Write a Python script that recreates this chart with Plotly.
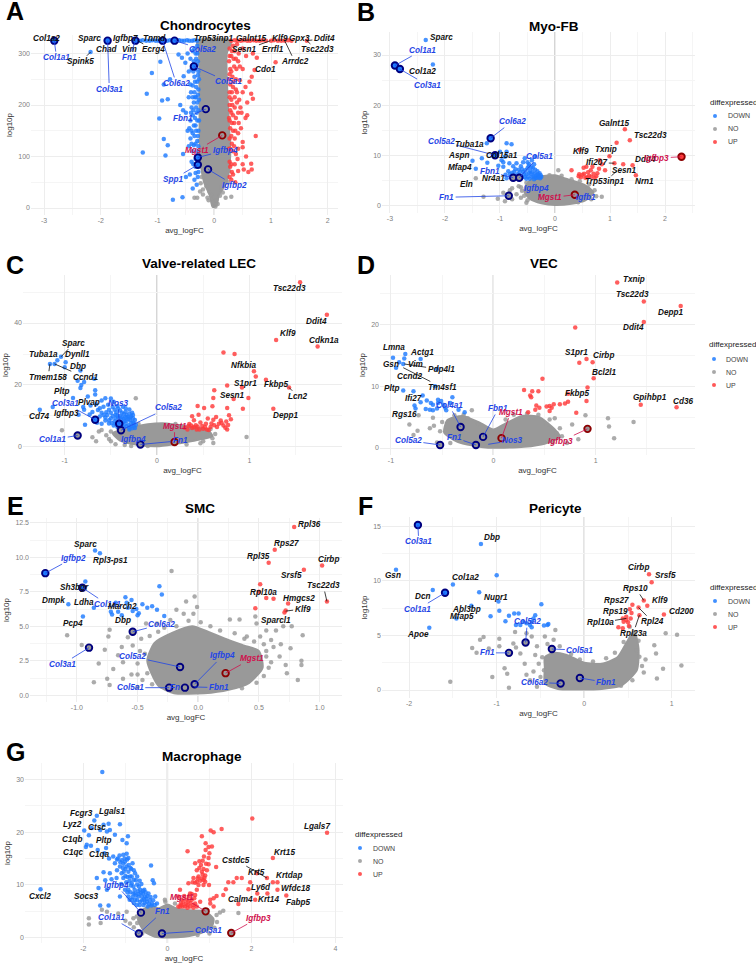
import plotly.graph_objects as go

W, H = 756, 967
FONT = "Liberation Sans"
BLUE, RED, GREY = "#1E7BFF", "#FF3B3B", "#999999"
NAVY, DKRED = "#00007F", "#8B0000"
LBL = {"k": "#111111", "b": "#1F45E6", "r": "#D0104C"}
FILL = {"b": BLUE, "n": GREY, "r": RED}

# ---------- Panel A: Chondrocytes ----------
A_down = [(-2.18,303),(-1.26,108),(-1.19,222),(-1.1,262),(-.95,284),(-.97,174),(-.92,209),(-.82,211),(-.89,134),(-.82,122),(-.86,102),
 (-.73,16),(-.56,21),(-.38,38),(-.89,240),(-.78,250),(-.54,256),(-.63,298),(-.51,282),(-.57,292),(-.6,200),(-.55,190),(-.5,185),(-.42,240),
 (-.45,215),(-.4,195),(-.38,180),(-.42,170),(-.47,150),(-.4,150),(-.35,140),(-.33,160),(-.3,130),(-.45,120),(-.38,110),(-.33,95),(-.55,105),
 (-.5,60),(-.43,65),(-.35,55),(-.31,45),(-.28,70),(-.27,100),(-.28,120),(-.28,150),(-.27,170),(-.28,190),(-.27,210),(-.28,230),(-.27,250),
 (-.28,265),(-.29,285),(-.3,300),(-.3,315),(-.33,300),(-.35,310),(-.38,305),(-.42,290),(-.33,270),(-.35,255),(-.32,235),(-.35,225),(-.32,215),
 (-.36,205),(-.32,195),(-.34,175),(-.32,150),(-.3,110),
 (-1.36,325),(-1.31,325),(-1.26,326),(-1.2,325),(-1.14,325),(-1.09,326),(-1.03,325),(-.98,325),(-.94,326),(-.87,325),(-.83,325),(-.78,326),
 (-.74,325),(-.66,325),(-.62,326),(-.57,325),(-.53,325),(-.48,326),(-.44,325),(-.39,325),(-.35,326),(-.3,325),
 (-.4,125),(-.36,122),(-.42,135),(-.38,145),(-.44,155),(-.36,160),(-.41,185),(-.37,190),(-.3,170),(-.31,185),(-.3,205),(-.34,215),(-.38,215),(-.41,225),(-.29,220),(-.3,245),(-.34,245),(-.38,238),(-.29,258),(-.37,265),
 (-.31,278),(-.36,285),(-.32,290),(-.4,270),(-.45,265),(-.47,300),(-.29,140),(-.33,125),(-.3,85),(-.33,80),(-.37,85),(-.4,90),(-.29,60),(-.33,68)]
A_up = [(1.08,283),(.71,268),(.73,140),(.65,86),(.66,75),(.6,70),(.5,128),(.5,118),(.56,100),(.5,85),(.52,75),(.42,72),(.37,50),(.33,65),(.3,85),
 (.33,110),(.27,90),(.26,115),(.27,135),(.28,155),(.3,140),(.36,135),(.42,145),(.47,155),(.55,175),(.58,180),(.48,185),(.43,165),(.35,165),
 (.3,185),(.26,175),(.27,200),(.3,210),(.36,195),(.44,210),(.5,225),(.58,205),(.68,212),(.65,222),(.62,245),(.66,255),(.55,235),(.4,225),(.33,235),
 (.27,225),(.26,250),(.32,255),(.38,250),(.45,248),(.5,270),(.42,285),(.35,275),(.28,270),(.3,295),(.26,285),(.36,305),(.43,300),(.5,310),(.56,295),
 (.68,300),(.75,292),(.33,315),(.27,310),(.4,318),
 (.3,325),(.36,326),(.41,325),(.47,325),(.52,326),(.58,325),(.63,325),(.69,326),(.74,325),(.8,325),(.85,326),(.91,325),(1.0,325),(1.05,326),(1.12,325),
 (1.18,325),(1.24,325),(1.3,326),(1.36,325),(1.63,325),
 (.28,115),(.31,125),(.35,120),(.38,105),(.42,115),(.27,170),(.31,165),(.33,180),(.38,175),(.42,185),(.46,195),(.28,190),(.32,200),(.27,215),(.31,225),(.36,215),(.4,205),(.28,240),(.33,245),(.38,230),(.27,260),(.3,265),
 (.34,290),(.38,290),(.27,295),(.31,305),(.39,270),(.45,275),(.28,80),(.31,70),(.36,85),(.41,95),(.27,60),(.3,55),(.37,150),(.33,150)]
A_no = [(-.3,20),(-.35,20),(-.25,32),(-.2,36),(-.12,20),(-.1,15),(-.05,24),(0,20),(.03,15),(.1,24),(.2,20),(.3,22),(-.02,10),(.06,8),(-.2,26),(.15,30),
 (-.08,30),(.02,3),(-.22,60),(-.24,48),(.25,50),(-.14,42),(.13,40),(-.23,80),(.26,72),(-.26,130),(.26,130)]
A_cloud = [(-.03,2),(-.08,25),(-.18,50),(-.25,100),(-.26,200),(-.27,300),(-.3,325),(.3,325),(.22,300),(.24,200),(.28,100),(.22,50),(.08,25),(.04,5)]
A_rings = [(-2.82,325,"b","b"),(-1.88,325,"b","b"),(-1.39,325,"b","b"),(-.91,325,"b","b"),(-.7,325,"b","b"),(-.36,275,"b","b"),(-.15,192,"n","b"),
 (.14,141,"n","r"),(-.29,98,"b","b"),(-.29,84,"b","b"),(-.11,75,"n","b")]
A_labels = [("Col1a2","k",-2.95,329,None,None),("Col1a1","b",-2.78,292,-2.82,325),("Sparc","k",-2.2,329,None,None),("Igfbp7","k",-1.57,329,-1.72,325),
 ("Tnmd","k",-1.06,330,None,None),("Chad","k",-1.9,307,None,None),("Spink5","k",-2.35,284,-2.18,303),("Vim","k",-1.49,307,None,None),
 ("Fn1","b",-1.49,293,-1.39,325),("Ecrg4","k",-1.07,307,-1.35,325),("Col3a1","b",-1.85,231,-1.88,325),("Col6a2","b",-.67,242,-.91,325),
 ("Col5a2","b",-.2,308,-.7,325),("Col5a1","b",.25,245,-.36,275),("Trp53inp1","k",-.01,329,None,None),("Galnt15","k",.64,329,None,None),
 ("Klf9","k",1.15,329,None,None),("Gpx3","k",1.5,329,None,None),("Ddit4","k",1.94,329,1.63,325),("Sesn1","k",.54,307,.99,325),("Errfl1","k",1.03,307,None,None),
 ("Arrdc2","k",1.42,284,1.24,325),("Tsc22d3","k",1.81,307,1.63,325),("Cdo1","k",.91,269,None,None),("Fbn1","b",-.55,173,-.15,192),
 ("Mgst1","r",-.31,112,.14,141),("Igfbp4","b",.19,112,-.29,98),("Spp1","b",-.72,56,-.29,84),("Igfbp2","b",.36,44,-.11,75)]

# ---------- Panel B: Myo-FB ----------
B_down = [(-2.35,33),(-2.22,28.1),(-1.24,12.4),(-.88,12.4),(-.79,12.2),(-1.5,8.9),(-1.44,7.3),(-1.23,8.5),(-1.33,9.4),(-1,10.7),(-.88,10.7),(-.97,9),(-.91,9.7),
 (-.83,8.4),(-.94,7.7),(-.7,8.4),(-.55,9.4),(-.42,9),(-.36,9.7),(-.94,8.6),(-1.03,7.9),(-.85,6.8),(-.9,6.1),(-.78,6.5),(-.72,7.2),(-.68,6.2),(-.62,7.8),(-.58,6.7),
 (-.55,5.6),(-.5,7.4),(-.52,6.2),(-.47,8.2),(-.45,6.9),(-.42,5.7),(-.4,7.5),(-.37,6.3),(-.35,5.5),(-.32,6.8),(-.3,5.9),(-.27,5.4),(-.25,5.7),(-.58,8.6),(-.5,8.6),
 (-.62,5.4),(-.73,5.9),(-.46,5.3),(-.38,5.2),(-.28,6.4),(-.8,5.7),(-.66,7.1),
 (-.88,5.4),(-.82,6.2),(-.76,7.8),(-.7,5.6),(-.64,6.6),(-.6,5.7),(-.56,6.2),(-.54,7),(-.49,5.7),(-.47,6.5),(-.44,6.3),(-.41,6.6),(-.39,5.8),(-.36,7.1),(-.34,6),(-.33,5.5),(-.31,6.2),(-.29,5.6),(-.26,6),(-.48,7.8),(-.6,7.2),(-.68,5.3),(-.74,6.7),(-.52,5.3),(-.43,7.6),(-.38,8.2)]
B_up = [(1.27,15.2),(1.36,13),(1.12,12.5),(.45,11.1),(.99,9.8),(1.08,8.4),(1.24,8.2),(1.41,8),(1.47,6),(.81,9),(.91,7),(.3,7),(.44,6.2),(.47,5.6),(.43,5.8),
 (.52,7.5),(.57,7.7),(.53,6.3),(.55,5.5),(.6,6.6),(.62,5.9),(.65,7),(.68,7.7),(.7,6.3),(.75,5.8),(.77,6.4),(.8,7.3),(.85,8.2),(.58,5.6),(.5,6.1),(.72,5.5),(.66,5.7)]
B_no = [(-1.44,5.4),(-1.3,1.7),(-1.04,1.3),(-.91,.8),(-.94,2.5),(-.82,3),(.85,1.7),(.06,7),(-.78,3.4),(-.7,2.2),(-.66,3.8),(-.62,1.5),(-.6,2.9),(-.78,1.2),(.62,4.2),(.72,3),(.75,1.8),(-.1,6),
 (-.52,4.5),(-.56,1.9),(-.5,1),(-.38,5.4),(.12,5.9),(.3,5.2),(.45,4.8),(.6,3.4),(.66,1.2),(.42,.6),(-.62,3.6),(-.52,.5)]
B_cloud = [(-.55,3.5),(-.45,5),(-.25,5.8),(0,6),(.2,5.3),(.35,4.8),(.55,4),(.7,2.5),(.55,1),(.3,.3),(0,.05),(-.25,.4),(-.45,1.2),(-.55,2.5)]
B_rings = [(-2.91,27.9,"b","b"),(-2.82,27.2,"b","b"),(-1.17,13.4,"b","b"),(-1.09,10,"b","b"),(-.76,5.5,"n","b"),(-.65,5.5,"n","b"),(-.84,1.9,"n","b"),(2.3,9.7,"r","r"),(.36,2.1,"n","r")]
B_labels = [("Sparc","k",-2.07,33.5,None,None),("Col1a1","b",-2.41,31,-2.91,27.9),("Col1a2","k",-2.41,26.8,None,None),("Col3a1","b",-2.32,24,-2.82,27.2),
 ("Col6a2","b",-.78,16.7,-1.17,13.4),("Col5a2","b",-2.07,12.8,-1.09,10),("Tuba1a","k",-1.56,12.2,None,None),("Aspn","k",-1.76,9.9,None,None),("Col15a1","k",-.97,9.9,None,None),
 ("Mfap4","k",-1.72,7.5,None,None),("Fbn1","b",-1.19,6.7,-.76,5.5),("Nr4a1","k",-1.12,5.4,None,None),("Eln","k",-1.61,4.2,None,None),("Col5a1","b",-.29,9.8,-.65,5.5),
 ("Igfbp4","b",-.33,3.4,-.28,1.5),("Fn1","b",-1.97,1.6,-.84,1.9),("Mgst1","r",-.09,1.5,.36,2.1),("Igfb1","b",.56,1.6,.36,2.1),("Galnt15","k",1.08,16.4,None,None),
 ("Tsc22d3","k",1.73,14,None,None),("Klf9","k",.48,10.7,None,None),("Txnip","k",.93,11.1,.99,9.8),("Ifi207","k",.76,8.5,1.08,8.4),("Ddit4","k",1.64,9.2,None,None),
 ("Igfbp3","r",1.85,9.4,2.3,9.7),("Sesn1","k",1.26,6.9,None,None),("Trp53inp1","k",.9,4.7,1.12,6.8),("Nrn1","k",1.62,4.7,None,None)]

# ---------- Panel C: Valve-related LEC ----------
C_down = [(-1.27,12),(-1.13,12.9),(-1.04,29.1),(-1.08,28),(-.99,27.3),(-1.16,26.8),(-1.11,26.8),(-1,25.7),(-.83,24.7),(-.86,21.4),(-.79,21),(-.83,19),(-.68,22),(-.91,15.8),
 (-.67,18.3),(-.75,16.3),(-.67,16.9),(-.78,7.2),(-.85,10.4),(-.79,12),(-.82,20),(-.8,12.9),(-.72,13.4),(-.73,10.5),(-.7,11.3),(-.66,13.8),(-.64,11.9),(-.6,15),(-.62,9.8),
 (-.56,15.7),(-.53,13.6),(-.5,15.6),(-.55,11.2),(-.48,12.9),(-.45,10.4),(-.43,13.2),(-.4,11.8),(-.37,13),(-.34,11.4),(-.3,12.1),(-.27,11),(-.5,9.3),(-.46,8.3),(-.42,9.4),
 (-.38,9.6),(-.35,8.4),(-.32,9.7),(-.29,8.7),(-.26,9.3),(-.25,7.5),(-.28,6.8),(-.33,6.7),(-.36,6.2),(-.43,6.5),(-.47,6.9),(-.52,7.6),(-.56,8.5),(-.6,7.5),(-.65,7.8),(-.4,5.8),(-.24,6.1),(-.3,5.6),
 (-.62,12.5),(-.58,13),(-.56,9.5),(-.54,10.3),(-.52,12),(-.5,11),(-.48,10),(-.47,14.6),(-.46,12),(-.44,11.2),(-.42,12.4),(-.42,8),(-.4,10),(-.4,7.2),(-.39,8.8),(-.38,11),(-.38,6.9),(-.36,9.2),(-.36,10.6),(-.35,7.4),(-.34,12.5),
 (-.33,8.4),(-.33,10.3),(-.31,7.1),(-.31,9),(-.3,10.7),(-.3,6.3),(-.28,9.9),(-.28,7.8),(-.27,6),(-.26,8),(-.26,10.3),(-.25,6.7),(-.24,8.7),(-.23,7.2),(-.52,8.6),(-.49,7.7),(-.45,7.5),(-.45,9.2),(-.43,10.1),(-.37,7.9),(-.34,9.6),(-.29,9.5),(-.58,10.3),(-.6,11)]
C_up = [(1.55,53.2),(1.84,42.7),(1.29,34.5),(1.74,32.4),(.72,30.5),(.84,30),(1.05,24.4),(1.07,22.7),(1.18,21.7),(1.43,19.2),(.92,19.2),(.76,19.8),(.62,18.3),(.61,15.8),(.83,15.5),
 (.99,15.8),(1.26,12.3),(.93,12.3),(.44,13.2),(.51,12.6),(.6,13.1),(.76,12.6),(.38,9.9),(.45,10.4),(.3,6.2),(.35,7.4),(.4,8.6),(.33,5.6),(.38,6.1),(.42,7),(.47,7.9),(.5,5.9),(.53,7.5),
 (.55,9.2),(.58,6.4),(.61,8.8),(.64,9.7),(.62,7),(.67,7.5),(.69,8.5),(.72,6.9),(.75,8.2),(.77,7.1),(.8,8.9),(.76,5.6),(.78,10.2),(.43,5.6),(.56,5.5),
 (.34,6.8),(.37,6.9),(.4,6.4),(.44,6.6),(.46,5.6),(.49,6.8),(.52,6.4),(.54,5.6),(.59,7.6),(.65,6.4),(.7,7.7),(.74,6.2)]
C_no = [(-1.03,5.4),(-.7,3.1),(-.66,1.8),(-.63,5),(-.23,15.7),(.97,3.2),(.61,1.3),(-.5,1.8),(-.6,5.5),(-.55,3.8),(-.52,2.6),(-.45,.9),(-.35,.6),(.5,1.8),(.63,4.2),
 (-.5,5),(-.42,6),(-.2,7.4),(.2,7.4),(.42,6.2),(.58,5.8),(.6,2.8),(.47,1.2),(.32,.8),(-.28,.3),(-.1,.3)]
C_cloud = [(-.48,4.5),(-.3,6),(-.1,7.3),(.1,7.6),(.3,6.8),(.55,5.5),(.6,3.5),(.4,2),(.2,1),(0,.2),(-.2,.6),(-.4,2)]
C_rings = [(-.86,3.7,"n","b"),(-.67,8.8,"b","b"),(-.41,7.5,"b","b"),(-.39,5.4,"n","b"),(-.18,.8,"n","b"),(.19,1.6,"n","r")]
C_labels = [("Tsc22d3","k",1.44,51,None,None),("Ddit4","k",1.73,40.5,None,None),("Klf9","k",1.42,36.5,None,None),("Cdkn1a","k",1.81,34.3,None,None),("Nfkbia","k",.94,26.3,None,None),
 ("S1pr1","k",.96,20.4,None,None),("Fkbp5","k",1.29,20,None,None),("Sesn1","k",.82,16.7,None,None),("Lcn2","k",1.53,16.2,1.43,19.2),("Depp1","k",1.39,10.1,None,None),
 ("Sparc","k",-.9,33.5,-1.04,29.1),("Tuba1a","k",-1.23,29.8,None,None),("Dynll1","k",-.86,29.8,None,None),("Dbp","k",-.86,26,None,None),("Tmem158","k",-1.18,22.5,-1.16,26.8),
 ("Ccnd1","k",-.78,22.5,-1.11,26.8),("Pltp","k",-1.03,17.8,None,None),("Col3a1","b",-.99,14,-.67,8.8),("Plvap","k",-.74,14.4,None,None),("Nos3","b",-.42,14,-.41,7.5),
 ("Igfbp3","k",-.98,10.8,None,None),("Cd74","k",-1.28,9.8,None,None),("Col1a1","b",-1.13,2.4,-.86,3.7),("Col5a2","b",.12,12.6,-.39,5.4),("Igfbp4","b",-.25,2.4,None,None),
 ("Mgst1","r",.19,6.7,.19,1.6),("Fn1","b",.25,2,-.18,.8)]

# ---------- Panel D: VEC ----------
D_down = [(-.86,15.2),(-.98,14.6),(-.87,14.5),(-.71,14.4),(-.92,13.9),(-.88,13.6),(-.95,13),(-.55,12.8),(-.57,10),(-.88,9.3),(-.78,9.2),(-.69,8.5),(-.77,6.9),(-.76,6.4),(-.71,7.4),(-.65,7.7),
 (-.61,7.3),(-.66,6.3),(-.59,7),(-.54,7.8),(-.54,7.3),(-.51,7.6),(-.4,8.2),(-.59,6.1),(-.55,6.4),(-.47,6.5),(-.46,6.1),(-.34,6.2),(-.28,5.8),(-.49,7),(-.42,7.3),(-.62,6.2)]
D_up = [(1.21,26.8),(1.47,23.7),(1.83,23),(1.47,20.4),(.8,19.5),(.91,14.4),(.97,13.9),(.84,13.8),(.98,11.3),(.48,11.2),(.92,9.8),(.3,9.4),(.38,9.2),(.44,9.2),(.36,8.5),(.37,8.2),(.73,8.8),(.91,7.6),
 (.73,7.5),(.7,7.2),(.65,7.1),(.59,7.1),(.55,6.8),(.52,6.7),(.57,6.5),(.42,6.9),(.45,6.5),(.41,6.2),(.34,5.8),(.81,5.7),(1.44,7),(1.79,6.6),(.55,6)]
D_no = [(-.73,5.3),(-.82,3.8),(-.74,2.8),(-.78,2.1),(-.59,4.9),(-.62,3.2),(1.12,4.8),(1.13,3.5),(1.37,4.2),(1.18,1.6),(.9,5.3),(.83,1.4),(.77,3.8),(.65,3.2),(.67,1.9),(.55,4.6),(.52,3.8),(-.21,6.1),
 (-.29,5.4),(-.52,2.7),(-.5,4.2),(-.55,.9),(.72,.8),(.6,4.8),(-.38,5.3),(-.25,4.8),(-.15,3.9),(.12,4.6),(.2,5.4),(.33,5.6),(.44,5.4),(.62,2.4),(-.42,.8),(-.58,3.6),(.58,.9)]
D_cloud = [(-.48,2.5),(-.45,4.5),(-.3,5.2),(-.12,4),(0,3),(.1,3.8),(.28,5.2),(.45,5),(.6,3),(.65,1.8),(.5,.7),(.3,.2),(.1,.05),(-.05,.05),(-.2,.4),(-.35,1)]
D_rings = [(-.52,.5,"n","b"),(-.32,3.4,"n","b"),(-.17,.5,"n","b"),(-.1,1.8,"n","b"),(.08,1.6,"n","r"),(.92,3.1,"n","r")]
D_labels = [("Txnip","k",1.37,27.2,None,None),("Tsc22d3","k",1.36,24.8,None,None),("Depp1","k",1.73,21.9,None,None),("Ddit4","k",1.37,19.5,None,None),("S1pr1","k",.81,15.4,None,None),
 ("Cirbp","k",1.08,15,None,None),("Bcl2l1","k",1.09,12.3,None,None),("Fkbp5","k",.82,8.8,None,None),("Gpihbp1","k",1.53,8.1,None,None),("Cd36","k",1.85,7.6,None,None),
 ("Lmna","k",-.97,16.2,None,None),("Actg1","k",-.7,15.4,None,None),("Gsn","k",-1,13.5,None,None),("Vim","k",-.76,13.5,None,None),("Pdp4l1","k",-.51,12.7,-.87,13.6),("Ccnd2","k",-.82,11.6,None,None),
 ("Tm4sf1","k",-.5,9.8,-.88,13),("Pltp","k",-.99,9.7,None,None),("Ifi27","k",-.78,8,None,None),("Rgs16","k",-.87,5.5,None,None),("Col4a1","b",-.43,6.9,-.32,3.4),("Col5a2","b",-.83,1.2,-.52,.5),
 ("Fn1","b",-.38,1.7,-.17,.5),("Fbn1","b",.05,6.4,-.1,1.8),("Mgst1","r",.17,5.8,.08,1.6),("Nos3","b",.18,1.2,-.05,.6),("Igfbp3","r",.66,1.1,.92,3.1)]

# ---------- Panel E: SMC ----------
E_down = [(-.85,10.5),(-.81,10.3),(-.93,8.25),(-.32,7.9),(-.3,7.3),(-1.07,6.6),(-.95,5.7),(-.86,6.35),(-.6,7.1),(-.55,6.9),(-.59,6.7),(-.68,6.7),(-.72,6.05),(-.71,5.85),(-.66,6.05),(-.63,5.8),
 (-.58,6.35),(-.54,6.1),(-.51,6.25),(-.5,5.8),(-.49,5.95),(-.46,6.6),(-.42,6.35),(-.38,6.45),(-.34,6.2),(-.28,5.75)]
E_up = [(.79,12.2),(.63,10.55),(.58,9.6),(.87,9.1),(1.02,9.4),(.51,8.05),(.5,7.5),(.56,7.05),(.62,7),(1.06,6.8),(.74,6.65),(.47,6.3),(.72,6.15),(.71,6)]
E_no = [(-.22,9),(-.03,7.15),(-1.08,4.35),(-.96,3.65),(-.86,.95),(-.73,4.75),(-.74,4.25),(-.77,3.3),(-.82,2.3),(-.75,1.2),(-.73,.75),(-.63,3.5),(-.62,2.4),(-.54,3.6),(-.5,2.3),(.77,5),(.86,4.35),
 (.85,2.5),(.85,2.2),(.82,1.1),(-.1,6.8),(-.18,6.2),(-.01,6.4),(.26,5.5),(.34,5.5),(.47,5.7),(.48,5.2),(.4,4.25),(.56,4.7),(.64,4.7),(.7,5),(.51,4.25),(.62,3.5),(.56,2.8),(.67,2.8),(.73,1.6),
 (-.43,5.2),(-.34,5.2),(-.23,5.45),(-.12,5.9),(-.04,5.9),(-.62,1.2),(-.55,1.5),(-.48,3.2),(-.46,1.1),(-.5,.6),(.58,2),(.6,4),(.68,3.7),(.72,2.2),(.76,3.4),(-.66,2.9),(-.7,1.9),(-.58,4.2),(-.47,4.1),
 (-.4,4.3),(-.33,4.6),(-.28,4.9),(-.18,5),(-.08,5.4),(.02,5.3),(.1,5),(.18,4.7),(.3,4.5),(.38,4.1),(.46,3.9),(.54,3.7),(.56,3.2),(.6,2.4),(.54,1.4),(.48,.9),(.36,.5),(-.38,.8),(-.42,1.6),(-.44,3),(-.5,1.5)]
E_cloud = [(-.42,2.5),(-.36,3.8),(-.22,4.5),(-.05,5),(.08,4.6),(.22,4.1),(.38,3.6),(.5,3.2),(.53,2),(.42,.9),(.25,.4),(.05,.15),(-.2,.15),(-.33,.7)]
E_rings = [(-1.26,8.85,"b","b"),(-.955,7.8,"b","b"),(-.54,4.6,"n","b"),(-.9,3.45,"n","b"),(-.15,2.05,"n","b"),(-.03,.8,"n","b"),(.225,1.6,"n","r"),(-.24,.55,"n","b"),(-.11,.55,"n","b")]
E_labels = [("Rpl36","k",.92,12.4,None,None),("Rps27","k",.73,11,None,None),("Rpl35","k",.5,10.05,None,None),("Cirbp","k",1.07,9.85,None,None),("Srsf5","k",.77,8.65,None,None),
 ("Tsc22d3","k",1.03,7.95,1.06,6.8),("Rpl10a","k",.54,7.45,None,None),("Hmgcs2","k",.83,7.05,None,None),("Klf9","k",.86,6.25,.72,6.1),("Sparcl1","k",.64,5.45,None,None),
 ("Sparc","k",-.93,10.9,None,None),("Igfbp2","b",-1.03,9.95,-1.26,8.85),("Rpl3-ps1","k",-.72,9.8,None,None),("Sh3bgr","k",-1.02,7.8,None,None),("Dmpk","k",-1.19,6.9,None,None),
 ("Ldha","k",-.94,6.75,None,None),("Col1a1","b",-.75,6.6,-.955,7.8),("March2","k",-.62,6.45,None,None),("Dbp","k",-.62,5.45,None,None),("Pcp4","k",-1.03,5.2,None,None),
 ("Col6a2","b",-.3,5.15,-.54,4.6),("Col3a1","b",-1.12,2.25,-.9,3.45),("Col5a2","b",-.54,2.8,-.15,2.05),("Igfbp4","b",.2,2.85,-.03,.8),("Mgst1","r",.44,2.65,.225,1.6),
 ("Col5a1","b",-.56,.55,-.24,.55),("Fn","b",-.19,.55,None,None),("Fbn1","b",.17,.55,-.03,.6)]

# ---------- Panel F: Pericyte ----------
F_down = [(-2.15,11),(-1.18,13.35),(-1,10.5),(-1.73,9.15),(-1.5,9.65),(-1.2,8.95),(-1.29,7.7),(-.98,8.1),(-.97,7.25),(-.49,7.85),(-1.77,5.7),(-1.46,6.55),(-1.07,6.75),(-.86,6.8),(-.8,7),(-.75,7),
 (-.9,6.3),(-.78,5.95),(-.56,6.85),(-.58,6.55),(-.6,6.25),(-.62,5.95),(-.6,5.75),(-.46,5.9),(-.41,6.05),(-.42,5.95),(-.7,6.25),(-.73,5.95),(-.66,6.1)]
F_up = [(.74,10.6),(.77,9.85),(.68,8.2),(.72,7.7),(.55,7.8),(.62,7.55),(.63,6.85),(.91,6.9),(.52,7.4),(.54,7.05),(.53,6.55),(.44,6.55),(.48,6.4),(.45,6.25),(.5,6.2),(.39,5.75),(.44,5.65),(.51,5.85),(.48,6.7)]
F_no = [(-1.53,.75),(-1.15,4.85),(-1.19,4.6),(-1.28,3.85),(-1.23,3.4),(-1.09,3.8),(-.97,4.7),(-.97,4),(-1.05,1.2),(-.91,2),(-.88,1.5),(-.86,.2),(.93,5.2),(1.06,5.05),(.8,4.1),(.82,3.35),(1.11,2.25),(.9,1.95),
 (.83,1.05),(.55,.9),(-.81,4.25),(-.79,5.3),(-.66,5.2),(-.6,4.9),(-.33,5.5),(-.54,4),(-.45,4.9),(-.73,3.35),(-.66,1.4),(-.58,1.7),(-.68,2.4),(-.62,.9),(-.54,.3),(.52,5.8),(.56,4.9),(.6,3.65),(.63,3.05),
 (-.56,3.2),(-.52,2.4),(-.5,1.2),(-.78,3.9),(.7,2.8),(.68,1.6),(-.42,4.2),(-.35,4.6),(-.28,4),(-.15,3.3),(-.05,2.8),(.1,2.6),(.25,2.9),(.35,3.4),(.45,4.4),(.62,4.5),(.66,2.2),(.42,.4),(-.48,3),(-.46,1.8)]
F_cloud = [(-.45,3),(-.35,3.4),(-.2,3.2),(0,2.5),(.2,2.4),(.38,3),(.48,4.3),(.57,5.4),(.62,3.8),(.6,1.8),(.42,.4),(.2,.1),(-.1,.05),(-.3,.1),(-.45,.6),(-.45,2)]
F_rings = [(-1.9,15.1,"b","b"),(-1.59,8.9,"b","b"),(-.67,4.35,"n","b"),(-.86,3.4,"n","b"),(-.37,3.75,"n","b"),(-.27,.6,"n","b"),(-.05,1.1,"n","b")]
F_labels = [("Col3a1","b",-1.89,13.55,-1.9,15.1),("Dbp","k",-1.05,13.95,None,None),("Gsn","k",-2.19,10.45,None,None),("Col1a2","k",-1.36,10.3,None,None),("Dcn","k",-1.85,8.55,None,None),
 ("Col1a1","b",-1.9,7.4,-1.59,8.9),("Nupr1","k",-1.01,8.45,None,None),("Abl3bp","k",-1.35,7.35,None,None),("Mfap5","k",-1.4,6.75,None,None),("Apoe","k",-1.9,5.1,None,None),
 ("Col5a2","b",-.65,6.25,-.67,4.35),("Fn1","b",-1.11,3.4,-.86,3.4),("Col5a1","b",-.05,3.65,-.37,3.75),("Col6a2","b",-.57,.7,-.27,.6),("Fbn1","b",.25,.7,-.05,1.1),("Cirbp","k",.62,11.2,None,None),
 ("Srsf5","k",.93,10.45,None,None),("Rps10","k",.59,9.3,.68,8.2),("Klf9","k",.86,8.2,None,None),("Rps27","k",.37,8.2,None,None),("Cd200","k",1.11,7.15,None,None),("Rps19","k",.36,7.2,None,None),
 ("Rpl24","k",.78,6.25,.62,7.55),("Rpl10a","k",.18,6.15,.48,6.55),("Rpl23a","k",.56,5.2,.63,6.85)]

# ---------- Panel G: Macrophage ----------
G_down = [(-1.55,31.4),(-3.02,9.2),(-1.68,23.1),(-1.74,22.2),(-1.98,20.3),(-1.87,19.4),(-1.8,20.8),(-1.52,21.4),(-1.4,21.6),(-1.13,21.5),(-1.6,20.4),(-1.37,20.4),(-1.44,20.1),(-1.25,19.5),(-.94,19.2),
 (-1.07,18.5),(-.97,17.9),(-1.92,17.6),(-1.94,17.2),(-1.82,17.4),(-1.66,16.6),(-1.46,17),(-1.5,16),(-1.39,15),(-1.29,15.4),(-1.18,15),(-1.05,15.7),(-.97,15.9),(-1.09,14.7),(-1.01,14.4),(-.83,14.1),(-.39,13.7),
 (-1.13,13.5),(-.97,13.5),(-1.25,14.1),(-1.52,12.4),(-1.37,12.2),(-1.68,11.3),(-1.48,10.9),(-1.33,11.1),(-1.09,12.2),(-.93,12.5),(-.77,12.2),(-1.21,11.3),(-1.05,11.3),(-1.64,9.4),(-1.44,9.1),(-1.6,6.1),(-1.4,6.1),
 (-.35,10.9),(-.32,10.3),(-1.13,7.8),(-.85,10.3),(-.93,9.1),(-.81,8.4),(-.65,9.1),(-.77,7.2),(-.61,7.8),(-.45,8.4),(-.29,7.8),(-.49,6.8),(-.73,6.2),(-.57,6.2),(-.37,6.5),(-.25,6.5),(-.85,7.2),(-.69,7.8),(-.53,7.8),
 (-.81,9.7),(-1.01,9.1),(-.93,7.8),(-.65,6.8),(-.77,8.4),(-.89,11.6),(-.7,8.8),(-.6,7.1),(-.42,7.1),(-.55,9.1),(-1,13),(-.88,13.2),(-.8,11),(-.72,10.1),(-.98,10.5),(-.62,10.2),(-1.2,12.8),(-1.1,10.2),(-.88,8.6),(-.47,5.9),
 (-.95,8.6),(-.9,7.2),(-.87,9.9),(-.83,7.7),(-.8,6.6),(-.78,9.1),(-.75,8),(-.72,7.1),(-.68,8.3),(-.66,6.2),(-.63,8.5),(-.58,8.4),(-.56,7.3),(-.54,6.6),(-.5,7.4),(-.48,7.9),(-.44,6.4),(-.4,7.7),(-.38,6.1),(-.34,7.1),(-.3,6.2),
 (-.9,10.8),(-.85,11.6),(-.75,10.9),(-.68,9.7),(-1.05,14),(-1.14,15.6),(-1.2,14.8),(-1.12,14.3),(-1.02,15),(-.93,15.1),(-.96,14.8),(-1.06,13.2),(-.92,13.8),(-.86,13),(-.8,12.8),(-.95,11.5),(-1.04,12.5),(-1,11.7),(-.72,11.6),(-.66,10.8),(-.58,8.9),(-.52,8.6)]
G_up = [(2.02,22.6),(3.8,19.9),(1.03,20.3),(1.1,20),(1.29,20.6),(.82,19.2),(.48,16.4),(.91,17.9),(.98,17.2),(1.06,17.3),(.91,16.6),(1,16),(.87,15.4),(.98,15.1),(.66,14.1),(.8,13.8),(.98,13.9),(1.16,13.4),(.7,12.8),
 (.82,12.5),(.94,12.8),(2.51,15.1),(2.37,11.3),(2.13,12.2),(1.65,11.3),(1.77,11.3),(1.45,10.5),(1.57,10.5),(1.97,10.5),(2.51,10.5),(2.62,10.5),(2.62,9.1),(1.93,9.2),(2.14,8.4),(2.38,8.4),(2.83,8),(1.69,6.4),(2.09,7.2),
 (1.39,9.2),(1.33,8.1),(1.17,7.9),(1.1,7.5),(1.02,7.2),(.99,10),(.74,11.6),(.86,10.9),(.62,11.3),(.5,10.3),(.74,10),(.86,10),(.7,9.1),(.3,9.1),(.26,7.8),(.54,8.4),(.66,8.1),(.34,7.2),(.46,7.2),(.58,7.2),(.3,5.9),(.42,5.9),
 (.54,5.9),(.7,5.9),(.66,6.5),(.34,6.2),(.26,5.9),(.78,6.8),(1.1,5.9),(1.02,6.5),(.84,12),(.76,14.5),(.88,11.3),
 (.32,6.5),(.36,5.9),(.38,6.8),(.4,7.9),(.44,6.4),(.48,6.2),(.5,6.9),(.52,7.8),(.55,6.6),(.58,8.3),(.62,6.2),(.64,7.5),(.62,5.7),(.48,5.7),(.7,10.6),(.78,10.8),(.82,11.2),(.9,11.8),(.86,13),(.76,13.2),(.72,11.2),(.66,10.4),(.6,10.5),(.92,14),(.84,14.6),(.9,10.6)]
G_no = [(-1.87,3.7),(-1.87,2.5),(-1.59,2.8),(1.69,4.7),(1.33,5.1),(1.17,4.3),(-.89,2.7),(-.81,3.7),(-1.17,4.6),(-.06,7.2),(.18,6.5),(-.97,4.9),(-.73,4),(-1.56,5.3),(-1.44,4.9),(1.25,4.8),(-1,3.2),(-.05,6.8),
 (-.8,2),(-.72,2.8),(-.6,.8),(1.12,1.9),(1,.8),(.72,.5),(1.18,3)]
G_cloud = [(-.7,3.5),(-.6,5.2),(-.4,6),(-.2,5.6),(0,6.3),(.2,5.6),(.5,5.2),(.9,5),(1.1,3.5),(1.05,2),(.8,.9),(.4,.2),(0,.05),(-.3,.2),(-.55,1.2)]
G_rings = [(-.63,4.75,"n","b"),(.91,5,"n","r"),(-.68,.8,"n","b"),(-.13,.8,"n","b"),(1.52,.9,"n","r")]
G_labels = [("Fcgr3","k",-2.04,23.6,None,None),("Lgals1","k",-1.33,24,None,None),("Lyz2","k",-2.25,21.5,None,None),("Ctsc","k",-1.67,20.8,None,None),("C1qb","k",-2.26,18.7,None,None),("Pltp","k",-1.53,18.5,None,None),
 ("C1qc","k",-2.24,16.2,None,None),("C1qa","k",-1.62,15.8,None,None),("Igfbp4","b",-1.21,9.9,-.63,4.75),("Cxcl2","k",-3.03,7.9,None,None),("Socs3","k",-1.92,7.9,None,None),("Col1a1","b",-1.34,3.8,-.68,.8),
 ("Fn1","b",-.12,4.9,-.68,.8),("Col3a1","b",.98,1.4,-.13,.8),("Mgst1","r",.35,7.7,.91,5),("Igfbp3","r",2.16,3.7,1.52,.9),("Lgals7","k",3.56,21,None,None),("Krt15","k",2.78,16.2,None,None),("Cstdc5","k",1.63,14.7,2.37,11.3),
 ("Krt5","k",2.11,12.4,None,None),("Krtdap","k",2.89,11.7,None,None),("Wfdc18","k",3.07,9.4,None,None),("Ly6d","k",2.22,9.6,None,None),("Krt14","k",2.41,7.2,None,None),("Calm4","k",1.75,7.3,None,None),("Fabp5","k",3.12,6.7,None,None)]

TITLES = ["Chondrocytes", "Myo-FB", "Valve-related LEC", "VEC", "SMC", "Pericyte", "Macrophage"]
LETTERS = ["A", "B", "C", "D", "E", "F", "G"]
LEGEND_LABELS = ["DOWN", "NO", "UP"]
X_TICKS = [[-3,-2,-1,0,1,2],[-3,-2,-1,0,1,2],[-1,0,1],[-1,0,1],[-1,-.5,0,.5,1],[-2,-1,0,1],[-2,0,2,4]]
X_TEXT = [["-3","-2","-1","0","1","2"],["-3","-2","-1","0","1","2"],["-1","0","1"],["-1","0","1"],["-1.0","-0.5","0.0","0.5","1.0"],["-2","-1","0","1"],["-2","0","2","4"]]
Y_TICKS = [[0,100,200,300],[0,10,20,30],[0,20,40],[0,10,20],[0,2.5,5,7.5,10,12.5],[0,5,10,15],[0,10,20,30]]
Y_TEXT = [["0","100","200","300"],["0","10","20","30"],["0","20","40"],["0","10","20"],["0.0","2.5","5.0","7.5","10.0","12.5"],["0","5","10","15"],["0","10","20","30"]]
X_MINOR = [.5,.5,.5,.5,.25,.5,1]
Y_MINOR = [50,5,10,5,1.25,2.5,5]
X_RANGE = [(-3.23,2.18),(-3.145,2.545),(-1.452,2.004),(-1.107,1.97),(-1.386,1.184),(-2.31,1.265),(-3.39,4.18)]
Y_RANGE = [(-13.6,336),(-1.54,34.6),(-2.6,55.5),(-1.13,28),(-.49,12.85),(-.73,15.83),(-1,33.1)]

# layout, pixels: left, right, top, bottom of each panel
BOX = [(31,338,35,215),(382,695,32,213),(23,342,275,455),(380,695,275,455),(30,342,518,702),(382,695,517,698),(25,343,763,943)]
TITLE_POS = [(205,25),(554,26),(199,264),(544,264),(200,508),(555,508),(202,756)]
LETTER_POS = [(15,11),(366,12),(15,265),(366,265),(15,506),(365,506),(15,752)]
# legend: title x, title y, swatch x, text x, item ys
LEGENDS = [(708,102,715,726,(116,129,142)),(707,344,714,724,(359,372,385)),(708,587,715,726,(601,614,627)),(353,834,360,371,(848,861,874))]

DATA = [(A_down,A_up,A_no,A_cloud,A_rings,A_labels),(B_down,B_up,B_no,B_cloud,B_rings,B_labels),(C_down,C_up,C_no,C_cloud,C_rings,C_labels),
        (D_down,D_up,D_no,D_cloud,D_rings,D_labels),(E_down,E_up,E_no,E_cloud,E_rings,E_labels),(F_down,F_up,F_no,F_cloud,F_rings,F_labels),(G_down,G_up,G_no,G_cloud,G_rings,G_labels)]

def px(x): return x / W
def py(y): return 1 - y / H

fig = go.Figure()
ann, shp, lay = [], [], {}
for i, (down, up, no, cloud, rings, labels) in enumerate(DATA):
    n = "" if i == 0 else str(i + 1)
    xa, ya = f"x{n}", f"y{n}"
    L, R, T, B = BOX[i]
    grid = dict(showgrid=True, gridcolor="#EDEDED", gridwidth=.8, zeroline=False, showline=False, ticks="",
                tickfont=dict(size=7, color="#7F7F7F", family=FONT), tickmode="array", ticklen=0)
    lay[f"xaxis{n}"] = dict(grid, domain=[px(L), px(R)], range=list(X_RANGE[i]), anchor=ya, tickvals=X_TICKS[i], ticktext=X_TEXT[i],
                            minor=dict(showgrid=True, gridcolor="#F5F5F5", gridwidth=.6, dtick=X_MINOR[i], tick0=0, ticks=""),
                            title=dict(text="avg_logFC", font=dict(size=8, color="#333333", family=FONT), standoff=4))
    lay[f"yaxis{n}"] = dict(grid, domain=[py(B), py(T)], range=list(Y_RANGE[i]), anchor=xa, tickvals=Y_TICKS[i], ticktext=Y_TEXT[i],
                            minor=dict(showgrid=True, gridcolor="#F5F5F5", gridwidth=.6, dtick=Y_MINOR[i], tick0=0, ticks=""),
                            title=dict(text="log10p", font=dict(size=8, color="#333333", family=FONT), standoff=4))
    # zero line
    shp.append(dict(type="line", xref=xa, yref=f"{ya} domain", x0=0, x1=0, y0=0, y1=1, line=dict(color="#C4C4C4", width=1.4), layer="below"))
    # dense mass of non-significant genes
    fig.add_trace(go.Scatter(x=[p[0] for p in cloud]+[cloud[0][0]], y=[p[1] for p in cloud]+[cloud[0][1]], xaxis=xa, yaxis=ya, mode="lines",
                             fill="toself", fillcolor=GREY, line=dict(color=GREY, width=2, shape="spline", smoothing=.6), hoverinfo="skip", showlegend=False))
    for name, pts, col in (("NO", no, GREY), ("DOWN", down, BLUE), ("UP", up, RED)):
        fig.add_trace(go.Scatter(x=[p[0] for p in pts], y=[p[1] for p in pts], xaxis=xa, yaxis=ya, mode="markers", name=name, showlegend=False,
                                 marker=dict(size=4.5, color=col, opacity=.82, line=dict(width=0))))
    fig.add_trace(go.Scatter(x=[r[0] for r in rings], y=[r[1] for r in rings], xaxis=xa, yaxis=ya, mode="markers", name="highlight", showlegend=False,
                             marker=dict(size=6.5, color=[FILL[r[2]] for r in rings],
                                         line=dict(width=1.9, color=[NAVY if r[3] == "b" else DKRED for r in rings]))))
    for text, kind, lx, ly, tx, ty in labels:
        f = dict(size=8.2, color=LBL[kind], family=FONT, weight="bold", style="italic")
        if tx is None:
            ann.append(dict(text=text, x=lx, y=ly, xref=xa, yref=ya, showarrow=False, font=f))
        else:
            ann.append(dict(text=text, x=tx, y=ty, ax=lx, ay=ly, xref=xa, yref=ya, axref=xa, ayref=ya, showarrow=True, arrowhead=0,
                            arrowwidth=.8, arrowcolor=LBL[kind], standoff=0, font=f))
    tx_, ty_ = TITLE_POS[i]
    ann.append(dict(text=TITLES[i], x=px(tx_), y=py(ty_), xref="paper", yref="paper", xanchor="center", yanchor="middle", showarrow=False, font=dict(size=13.5, color="#000000", family=FONT, weight="bold")))
    lx_, ly_ = LETTER_POS[i]
    ann.append(dict(text=LETTERS[i], x=px(lx_), y=py(ly_), xref="paper", yref="paper", xanchor="center", yanchor="middle", showarrow=False, font=dict(size=25, color="#000000", family=FONT, weight="bold")))

for tx_, ty_, sx, txx, ys in LEGENDS:
    ann.append(dict(text="diffexpressed", x=px(tx_), y=py(ty_), xref="paper", yref="paper", xanchor="left", yanchor="middle", showarrow=False, font=dict(size=8, color="#222222", family=FONT)))
    for lab, col, yy in zip(LEGEND_LABELS, (BLUE, GREY, RED), ys):
        ann.append(dict(text=lab, x=px(txx), y=py(yy), xref="paper", yref="paper", xanchor="left", yanchor="middle", showarrow=False, font=dict(size=7, color="#444444", family=FONT)))
        shp.append(dict(type="circle", xref="paper", yref="paper", x0=px(sx-2), x1=px(sx+2), y0=py(yy+2), y1=py(yy-2), fillcolor=col, line=dict(width=0), opacity=.85))

fig.update_layout(width=W, height=H, margin=dict(l=0, r=0, t=0, b=0), paper_bgcolor="white", plot_bgcolor="white", showlegend=False,
                  annotations=ann, shapes=shp, font=dict(family=FONT), **lay)
fig.write_html("out.html", config={"displayModeBar": False}, post_script="document.body.style.margin='0';document.body.style.overflow='hidden';")
